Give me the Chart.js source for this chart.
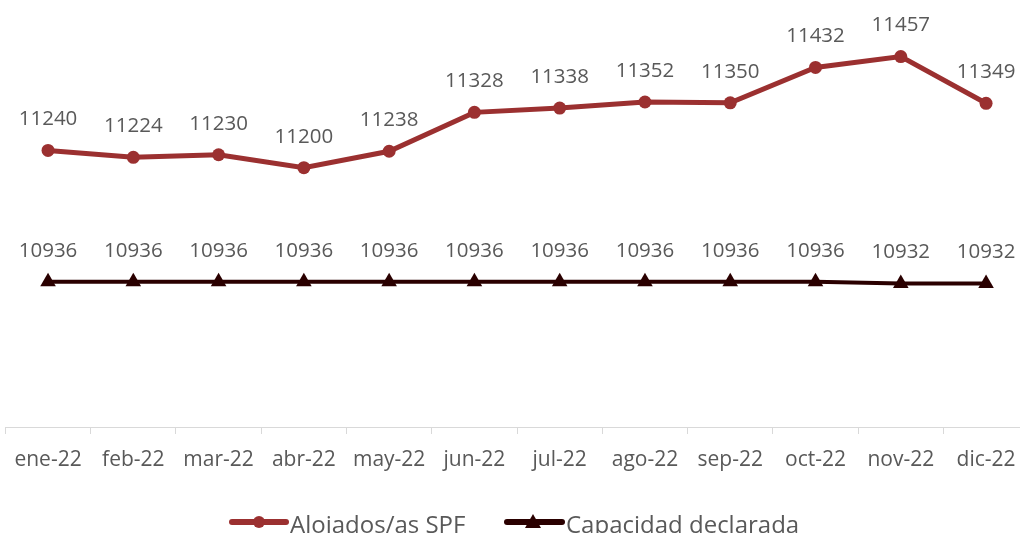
<!DOCTYPE html>
<html><head><meta charset="utf-8">
<script src="https://cdn.jsdelivr.net/npm/chart.js@4/dist/chart.umd.min.js"></script>
<style>
html,body{margin:0;padding:0;overflow:hidden;background:#fff;width:1020px;height:533px}
#wrap{position:absolute;left:0;top:0;width:1030px;height:533px}
</style></head>
<body>
<div id="wrap"><canvas id="c" width="1030" height="533"></canvas></div>
<script>
const categories = ['ene-22','feb-22','mar-22','abr-22','may-22','jun-22','jul-22','ago-22','sep-22','oct-22','nov-22','dic-22'];
const alojados = [11240,11224,11230,11200,11238,11328,11338,11352,11350,11432,11457,11349];
const capacidad = [10936,10936,10936,10936,10936,10936,10936,10936,10936,10936,10932,10932];
const seriesNames = ['Alojados/as SPF','Capacidad declarada'];

const RED = '#9B3030';
const DARK = '#2A0000';
const TXT = '#595959';
const FONT = '"Open Sans", sans-serif';

const labelsPlugin = {
  id:'valLabels',
  afterDatasetsDraw(chart){
    const ctx = chart.ctx;
    ctx.save();
    ctx.font = '20.5px ' + FONT;
    ctx.fillStyle = TXT;
    ctx.textAlign = 'center';
    ctx.textBaseline = 'middle';
    chart.data.datasets.forEach((ds,i)=>{
      const meta = chart.getDatasetMeta(i);
      meta.data.forEach((pt,j)=>{
        ctx.fillText(String(ds.data[j]), pt.x, pt.y - 31);
      });
    });
    ctx.restore();
  }
};

const legendPlugin = {
  id:'customLegend',
  afterDraw(chart){
    const ctx = chart.ctx;
    ctx.save();
    const y = 522;
    ctx.font = '24px ' + FONT;
    ctx.textBaseline = 'alphabetic';
    ctx.textAlign = 'left';
    ctx.lineCap = 'round';
    // series 1
    ctx.strokeStyle = RED; ctx.lineWidth = 6;
    ctx.beginPath(); ctx.moveTo(232,y); ctx.lineTo(286,y); ctx.stroke();
    ctx.fillStyle = RED;
    ctx.beginPath(); ctx.arc(259,y,6,0,Math.PI*2); ctx.fill();
    ctx.fillStyle = TXT;
    ctx.fillText(seriesNames[0], 290, 533);
    // series 2
    ctx.strokeStyle = DARK; ctx.lineWidth = 6;
    ctx.beginPath(); ctx.moveTo(507,y); ctx.lineTo(562,y); ctx.stroke();
    ctx.fillStyle = DARK;
    ctx.beginPath(); ctx.moveTo(533,y-8); ctx.lineTo(541,y+6); ctx.lineTo(525,y+6); ctx.closePath(); ctx.fill();
    ctx.fillStyle = TXT;
    ctx.fillText(seriesNames[1], 566, 533);
    ctx.restore();
  }
};

new Chart(document.getElementById('c'), {
  type:'line',
  data:{
    labels: categories,
    datasets:[
      {label:seriesNames[0], data:alojados, borderColor:RED, backgroundColor:RED, borderWidth:5,
       pointRadius:6.5, pointHoverRadius:6.5, pointStyle:'circle', pointBorderWidth:0, tension:0},
      {label:seriesNames[1], data:capacidad, borderColor:DARK, backgroundColor:DARK, borderWidth:4,
       pointRadius:9, pointHoverRadius:9, pointStyle:'triangle', pointBorderWidth:0, tension:0}
    ]
  },
  options:{
    responsive:false,
    animation:false,
    events:[],
    layout:{autoPadding:false,padding:{left:5.4,right:1.3,top:0,bottom:0}},
    plugins:{legend:{display:false},tooltip:{enabled:false}},
    scales:{
      y:{display:false,min:10600,max:11588},
      x:{
        offset:true,
        afterFit(s){ s.height = 106; },
        border:{display:true,color:'#D9D9D9',width:1},
        grid:{display:true,offset:true,drawOnChartArea:false,drawTicks:true,tickLength:7,color:'#D9D9D9'},
        ticks:{color:TXT,font:{family:FONT,size:21},padding:13,maxRotation:0,autoSkip:false}
      }
    }
  },
  plugins:[labelsPlugin,legendPlugin]
});
</script>
</body></html>
